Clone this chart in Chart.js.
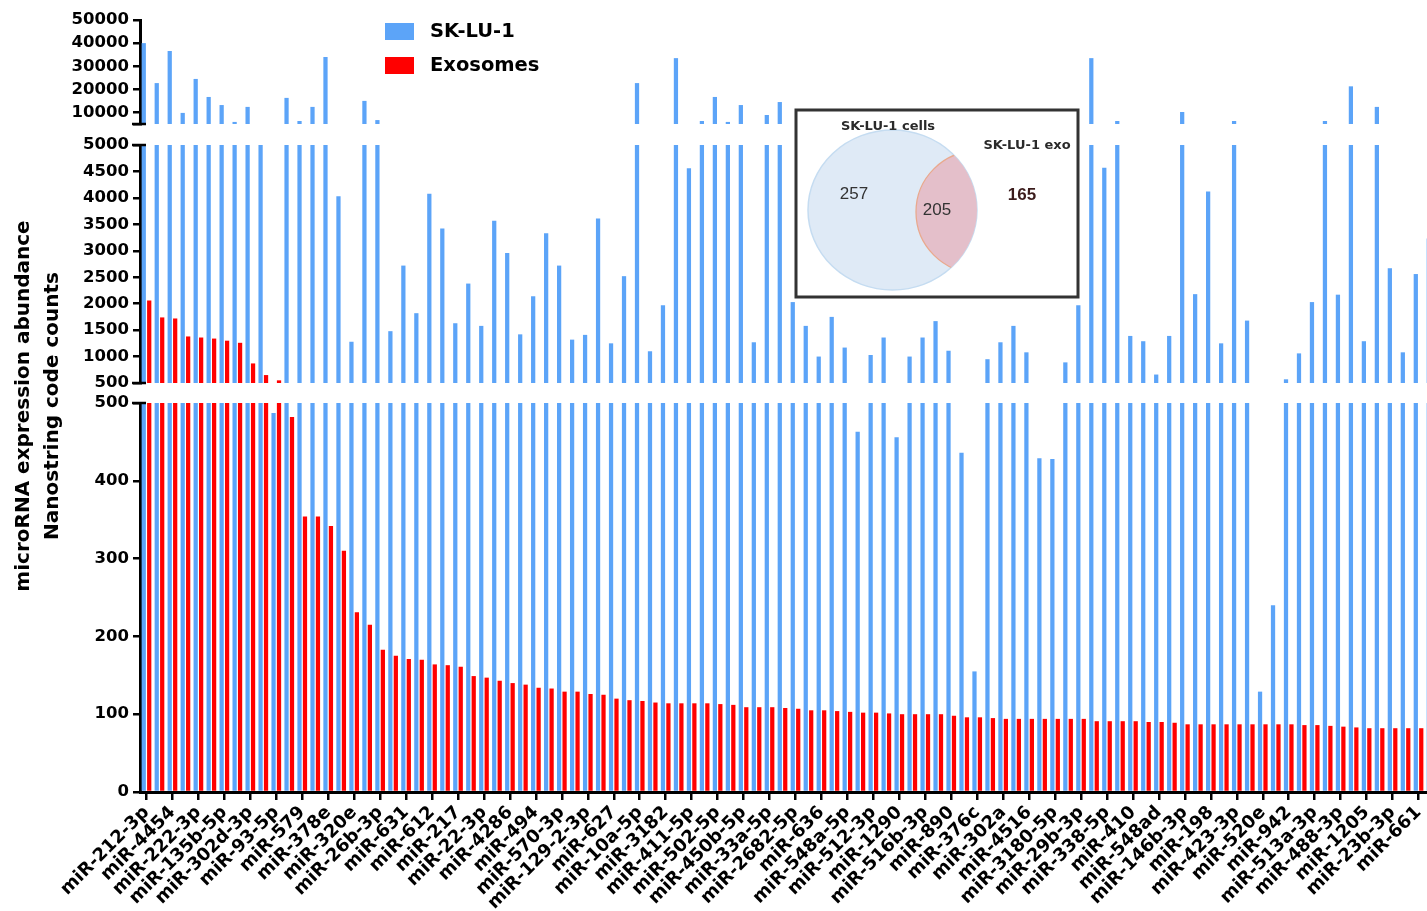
<!DOCTYPE html>
<html lang="en">
<head>
<meta charset="utf-8">
<title>microRNA expression abundance</title>
<script src="https://cdn.jsdelivr.net/npm/chart.js@4.4.1/dist/chart.umd.min.js"></script>
<style>
  html, body { margin: 0; padding: 0; background: #fff; overflow: hidden; }
  #wrap { position: relative; width: 1427px; height: 911px; overflow: hidden; }
  canvas { display: block; }
</style>
</head>
<body>
<div id="wrap"><canvas id="chart" width="1440" height="911"></canvas></div>
<script>
/* ── Dados ─────────────────────────────────────────────────────── */

// rótulos do eixo x (um a cada duas categorias)
const tickLabels = [
  'miR-212-3p', 'miR-4454', 'miR-222-3p', 'miR-135b-5p', 'miR-302d-3p',
  'miR-93-5p', 'miR-579', 'miR-378e', 'miR-320e', 'miR-26b-3p',
  'miR-631', 'miR-612', 'miR-217', 'miR-22-3p', 'miR-4286',
  'miR-494', 'miR-570-3p', 'miR-129-2-3p', 'miR-627', 'miR-10a-5p',
  'miR-3182', 'miR-411-5p', 'miR-502-5p', 'miR-450b-5p', 'miR-33a-5p',
  'miR-2682-5p', 'miR-636', 'miR-548a-5p', 'miR-512-3p', 'miR-1290',
  'miR-516b-3p', 'miR-890', 'miR-376c', 'miR-302a', 'miR-4516',
  'miR-3180-5p', 'miR-29b-3p', 'miR-338-5p', 'miR-410', 'miR-548ad',
  'miR-146b-3p', 'miR-198', 'miR-423-3p', 'miR-520e', 'miR-942',
  'miR-513a-3p', 'miR-488-3p', 'miR-1205', 'miR-23b-3p', 'miR-661'
];

// SK-LU-1 (células)
const skLu1 = [
  40000, 22700, 36600, 9800, 24500, 16700, 13200, 5900, 12400, 5000,
  487, 16300, 6300, 12400, 34000, 4030, 1280, 15000, 6700, 1480,
  2720, 1820, 4080, 3420, 1630, 2380, 1580, 3570, 2960, 1420,
  2140, 3330, 2720, 1320, 1410, 3610, 1250, 2520, 22700, 1100,
  1970, 33500, 4560, 6300, 16700, 5900, 13200, 1270, 8900, 14500,
  2030, 1580, 1000, 1750, 1170, 463, 1030, 1360, 456, 1000,
  1360, 1670, 1110, 436, 155, 950, 1270, 1580, 1080, 429,
  428, 890, 1970, 33500, 4570, 6300, 1390, 1290, 660, 1390,
  10200, 2180, 4120, 1250, 6300, 1680, 129, 240, 570, 1060,
  2030, 6300, 2170, 21300, 1290, 12400, 2670, 1080, 2560, 3230
];

// Exossomos
const exosomes = [
  2060, 1740, 1720, 1380, 1360, 1340, 1300, 1260, 870, 650,
  550, 482, 354, 354, 342, 310, 231, 215, 183, 175,
  171, 170, 164, 163, 161, 149, 147, 143, 140, 138,
  134, 133, 129, 129, 126, 125, 120, 118, 117, 115,
  114, 114, 114, 114, 113, 112, 109, 109, 109, 108,
  107, 105, 105, 104, 103, 102, 102, 101, 100, 100,
  100, 100, 98, 96, 96, 95, 94, 94, 94, 94,
  94, 94, 94, 91, 91, 91, 91, 90, 90, 89,
  87, 87, 87, 87, 87, 87, 87, 87, 87, 86,
  86, 85, 84, 83, 82, 82, 82, 82, 82, 81
];

const seriesNames = ['SK-LU-1', 'Exosomes'];

// ticks de cada trecho do eixo y quebrado
const topTicks = [5000, 10000, 20000, 30000, 40000, 50000];
const midTicks = [500, 1000, 1500, 2000, 2500, 3000, 3500, 4000, 4500, 5000];
const lowTicks = [0, 100, 200, 300, 400, 500];

// diagrama de Venn (inserto)
const vennSets = ['SK-LU-1 cells', 'SK-LU-1 exo'];
const vennCounts = [257, 205, 165];

const yTitle = ['microRNA expression abundance', 'Nanostring code counts'];

/* ── Estilo ─────────────────────────────────────────────────────── */

const colors = {
  blue: 'rgb(92, 164, 248)',
  red: '#ff0000',
  axis: '#000000',
  text: '#000000'
};
const FONT = "'DejaVu Sans', sans-serif";
const AXIS_W = 140;

const categories = skLu1.map((_, i) => (i % 2 === 0 ? tickLabels[i / 2] : ''));

// trechos do eixo y, de cima para baixo (stackWeight = altura em px)
const segments = [
  { id: 'yTop', min: 5000, max: 50000, ticks: topTicks, h: 104, hideMin: true },
  { id: 'gapA', h: 21 },
  { id: 'yMid', min: 500, max: 5000, ticks: midTicks, h: 238 },
  { id: 'gapB', h: 20 },
  { id: 'yLow', min: 0, max: 500, ticks: lowTicks, h: 389 }
];

// recorta a série para o intervalo de um trecho (barra flutuante)
function clipTo(values, lo, hi) {
  return values.map(v => (v > lo ? [lo, Math.min(v, hi)] : null));
}

const datasets = [];
segments.filter(s => s.ticks).forEach(s => {
  datasets.push({
    label: seriesNames[0], data: clipTo(skLu1, s.min, s.max),
    yAxisID: s.id, stack: 'cells', backgroundColor: colors.blue
  });
  datasets.push({
    label: seriesNames[1], data: clipTo(exosomes, s.min, s.max),
    yAxisID: s.id, stack: 'exo', backgroundColor: colors.red
  });
});

const scales = {
  x: {
    type: 'category',
    labels: categories,
    offset: true,
    border: { display: true, color: colors.axis, width: 3 },
    grid: { display: true, drawOnChartArea: false, offset: false, color: colors.axis, lineWidth: 2.5, tickLength: 8 },
    ticks: {
      autoSkip: false, minRotation: 45, maxRotation: 45, padding: 2,
      color: colors.text, font: { family: FONT, size: 18, weight: 'bold' }
    },
    afterBuildTicks: scale => { scale.ticks = scale.ticks.filter(t => t.value % 2 === 0); },
    afterFit: scale => { scale.height = 119; }
  }
};

segments.forEach((s, i) => {
  const base = {
    type: 'linear', position: 'left', stack: 'y', stackWeight: s.h,
    weight: segments.length - i, stacked: false,
    afterFit: scale => { scale.width = AXIS_W; }
  };
  if (!s.ticks) {
    scales[s.id] = Object.assign(base, {
      min: 0, max: 1,
      grid: { display: false }, border: { display: false }, ticks: { display: false }
    });
    return;
  }
  scales[s.id] = Object.assign(base, {
    min: s.min, max: s.max,
    afterBuildTicks: scale => { scale.ticks = s.ticks.map(v => ({ value: v })); },
    border: { display: true, color: colors.axis, width: 3 },
    grid: { display: true, drawOnChartArea: false, color: colors.axis, lineWidth: 2.5, tickLength: 7 },
    ticks: {
      autoSkip: false, padding: 4, color: colors.text,
      font: { family: FONT, size: 16.5, weight: 'bold' },
      callback: v => (s.hideMin && v === s.min ? '' : String(v))
    }
  });
});

/* ── Plugins de desenho extra ──────────────────────────────────── */

// marcas da quebra do eixo
const breakCaps = {
  id: 'breakCaps',
  afterDraw(chart) {
    const ctx = chart.ctx;
    const marks = [['yTop', 5000], ['yMid', 5000], ['yMid', 500], ['yLow', 500]];
    ctx.save();
    ctx.strokeStyle = colors.axis;
    ctx.lineWidth = 2.5;
    marks.forEach(([id, v]) => {
      const sc = chart.scales[id];
      const y = sc.getPixelForValue(v);
      ctx.beginPath();
      ctx.moveTo(sc.right - 8, y);
      ctx.lineTo(sc.right + 6, y);
      ctx.stroke();
    });
    ctx.restore();
  }
};

// título do eixo y em duas linhas
const axisTitle = {
  id: 'axisTitle',
  afterDraw(chart) {
    const ctx = chart.ctx;
    const area = chart.chartArea;
    const cy = (area.top + area.bottom) / 2;
    ctx.save();
    ctx.fillStyle = colors.text;
    ctx.font = `bold 20px ${FONT}`;
    ctx.textAlign = 'center';
    ctx.textBaseline = 'middle';
    [24, 53].forEach((x, i) => {
      ctx.save();
      ctx.translate(x, cy);
      ctx.rotate(-Math.PI / 2);
      ctx.fillText(yTitle[i], 0, 0);
      ctx.restore();
    });
    ctx.restore();
  }
};

// legenda no topo
const topLegend = {
  id: 'topLegend',
  afterDraw(chart) {
    const ctx = chart.ctx;
    const fills = [colors.blue, colors.red];
    ctx.save();
    ctx.font = `bold 19.5px ${FONT}`;
    ctx.textBaseline = 'middle';
    seriesNames.forEach((name, i) => {
      const y = 23 + i * 34;
      ctx.fillStyle = fills[i];
      ctx.fillRect(385, y, 29, 17);
      ctx.fillStyle = colors.text;
      ctx.fillText(name, 430, y + 9);
    });
    ctx.restore();
  }
};

// inserto com diagrama de Venn
const vennInset = {
  id: 'vennInset',
  afterDraw(chart) {
    const ctx = chart.ctx;
    const big = { x: 892.5, y: 210, rx: 84.5, ry: 80 };
    const small = { x: 977, y: 212, r: 61 };
    ctx.save();
    ctx.fillStyle = '#ffffff';
    ctx.fillRect(796, 110, 282, 187);
    ctx.strokeStyle = '#333333';
    ctx.lineWidth = 3;
    ctx.strokeRect(796, 110, 282, 187);

    ctx.beginPath();
    ctx.ellipse(big.x, big.y, big.rx, big.ry, 0, 0, Math.PI * 2);
    ctx.fillStyle = '#dfeaf6';
    ctx.fill();
    ctx.strokeStyle = '#c5dcf1';
    ctx.lineWidth = 1.5;
    ctx.stroke();

    ctx.save();
    ctx.beginPath();
    ctx.ellipse(big.x, big.y, big.rx, big.ry, 0, 0, Math.PI * 2);
    ctx.clip();
    ctx.beginPath();
    ctx.arc(small.x, small.y, small.r, 0, Math.PI * 2);
    ctx.fillStyle = '#e4bfca';
    ctx.fill();
    ctx.strokeStyle = '#e9a98e';
    ctx.lineWidth = 1.3;
    ctx.stroke();
    ctx.restore();

    ctx.textAlign = 'center';
    ctx.textBaseline = 'middle';
    ctx.fillStyle = '#2a2a2a';
    ctx.font = `bold 13px ${FONT}`;
    ctx.fillText(vennSets[0], 888, 127);
    ctx.fillText(vennSets[1], 1027, 146);

    ctx.font = "17px 'Liberation Sans', Arial, sans-serif";
    ctx.fillStyle = '#333333';
    ctx.fillText(String(vennCounts[0]), 854, 194);
    ctx.fillText(String(vennCounts[1]), 937, 210);
    ctx.font = "bold 17px 'Liberation Sans', Arial, sans-serif";
    ctx.fillStyle = '#3b1c1c';
    ctx.fillText(String(vennCounts[2]), 1022, 195);
    ctx.restore();
  }
};

/* ── Gráfico ───────────────────────────────────────────────────── */

new Chart(document.getElementById('chart'), {
  type: 'bar',
  data: { labels: categories, datasets },
  options: {
    responsive: false,
    animation: false,
    datasets: { bar: { categoryPercentage: 0.84, barPercentage: 0.78 } },
    layout: { padding: { top: 20, left: 0, right: 2, bottom: 0 } },
    plugins: { legend: { display: false }, tooltip: { enabled: false } },
    scales
  },
  plugins: [breakCaps, axisTitle, topLegend, vennInset]
});
</script>
</body>
</html>
